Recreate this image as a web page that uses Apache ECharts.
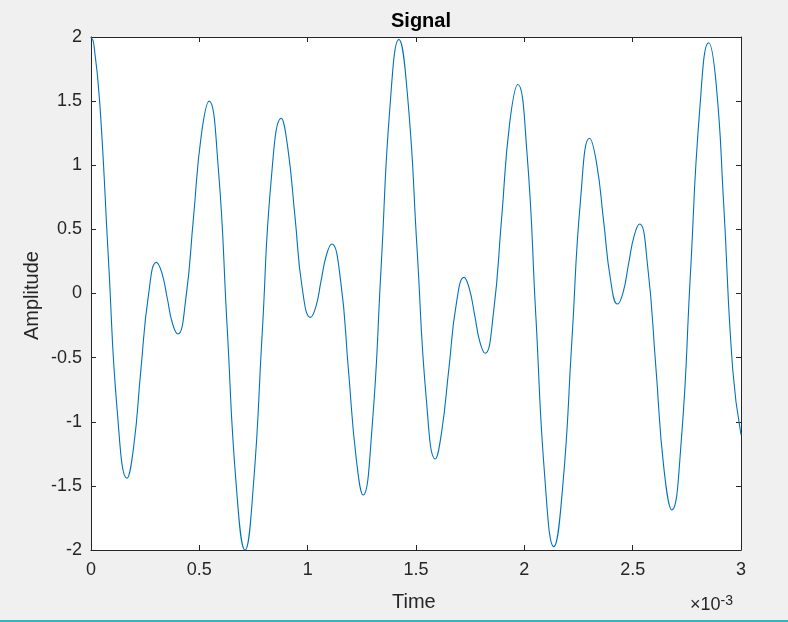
<!DOCTYPE html>
<html>
<head>
<meta charset="utf-8">
<script src="https://cdn.jsdelivr.net/npm/echarts@6/dist/echarts.min.js"></script>
<style>
html,body{margin:0;padding:0;background:#f0f0f0;}
#c{width:788px;height:622px;}
</style>
</head>
<body>
<div id="c"></div>
<script>
// Time in units of 1e-3 s (axis shows ×10^-3)
var timeMs = [
  0.000, 0.012, 0.040, 0.080, 0.122, 0.166, 0.197, 0.230, 0.266, 0.302,
  0.327, 0.352, 0.376, 0.401, 0.437, 0.473, 0.509, 0.545, 0.587, 0.628,
  0.670, 0.711, 0.749, 0.790, 0.831, 0.878, 0.908, 0.942, 0.975, 1.013,
  1.038, 1.062, 1.087, 1.111, 1.152, 1.188, 1.224, 1.256, 1.297, 1.339,
  1.380, 1.421, 1.463, 1.505, 1.547, 1.589, 1.618, 1.652, 1.686, 1.722,
  1.746, 1.771, 1.795, 1.819, 1.857, 1.895, 1.932, 1.970, 2.012, 2.053,
  2.095, 2.136, 2.177, 2.219, 2.260, 2.301, 2.333, 2.366, 2.398, 2.430,
  2.456, 2.481, 2.507, 2.532, 2.569, 2.607, 2.644, 2.681, 2.724, 2.766,
  2.809, 2.851, 2.885, 2.920, 2.962, 3.000
];
var amplitude = [
  2.000, 1.955, 1.496, 0.280, -0.936, -1.440, -1.194, -0.599, -0.003, 0.243,
  0.161, -0.037, -0.234, -0.316, -0.050, 0.592, 1.234, 1.500, 0.988, -0.250,
  -1.488, -2.000, -1.507, -0.317, 0.873, 1.366, 1.139, 0.590, 0.041, -0.186,
  -0.102, 0.100, 0.302, 0.386, 0.100, -0.593, -1.285, -1.571, -1.051, 0.205,
  1.460, 1.980, 1.501, 0.345, -0.811, -1.290, -1.083, -0.582, -0.081, 0.126,
  0.039, -0.170, -0.379, -0.466, -0.159, 0.582, 1.323, 1.630, 1.102, -0.172,
  -1.446, -1.974, -1.508, -0.382, 0.744, 1.210, 1.021, 0.564, 0.107, -0.082,
  0.009, 0.230, 0.451, 0.542, 0.216, -0.573, -1.362, -1.688, -1.155, 0.134,
  1.422, 1.955, 1.640, 0.700, -0.596, -1.100
];
var xTicks = [0, 0.5, 1, 1.5, 2, 2.5, 3];
var yTicks = [-2, -1.5, -1, -0.5, 0, 0.5, 1, 1.5, 2];
var titleText = 'Signal';
var xLabel = 'Time';
var yLabel = 'Amplitude';

var pts = timeMs.map(function(t, i){ return [t, amplitude[i]]; });
var axisColor = '#262626';
var font = '"Liberation Sans", Arial, sans-serif';

var chart = echarts.init(document.getElementById('c'), null, {renderer:'canvas'});
var xBase = {
  type:'value', min:xTicks[0], max:xTicks[xTicks.length-1], interval:0.5,
  axisLine:{show:true, onZero:false, lineStyle:{color:axisColor, width:1}},
  axisTick:{show:true, inside:true, length:5, lineStyle:{color:axisColor}},
  splitLine:{show:false}
};
var yBase = {
  type:'value', min:yTicks[0], max:yTicks[yTicks.length-1], interval:0.5,
  axisLine:{show:true, onZero:false, lineStyle:{color:axisColor, width:1}},
  axisTick:{show:true, inside:true, length:5, lineStyle:{color:axisColor}},
  splitLine:{show:false}
};
chart.setOption({
  backgroundColor:'#f0f0f0',
  animation:false,
  title:{
    text:titleText, left:416, top:6, textAlign:'center',
    textStyle:{fontFamily:font, fontWeight:'bold', fontSize:20, color:'#000'}
  },
  grid:{left:91, top:37, width:650, height:513, show:true, backgroundColor:'#ffffff', borderColor:axisColor, borderWidth:0},
  xAxis:[
    Object.assign({}, xBase, {position:'bottom',
      axisLabel:{show:true, margin:11, color:axisColor, fontFamily:font, fontSize:18,
        formatter:function(v){ return String(v); }}}),
    Object.assign({}, xBase, {position:'top', axisLabel:{show:false}})
  ],
  yAxis:[
    Object.assign({}, yBase, {position:'left',
      axisLabel:{show:true, margin:9, color:axisColor, fontFamily:font, fontSize:18,
        formatter:function(v){ return String(v); }}}),
    Object.assign({}, yBase, {position:'right', axisLabel:{show:false}})
  ],
  graphic:[
    {type:'text', left:392, top:592, style:{text:xLabel, fontFamily:font, fontSize:20, fill:axisColor}},
    {type:'text', x:22, y:340, rotation:Math.PI/2, style:{text:yLabel, fontFamily:font, fontSize:20, fill:axisColor}},
    {type:'text', left:690, top:594, style:{
      text:'{a|×10}{b|-3}',
      rich:{
        a:{fontFamily:font, fontSize:18, fill:axisColor},
        b:{fontFamily:font, fontSize:14, fill:axisColor, verticalAlign:'top', padding:[0,0,9,0]}
      }}},
    {type:'rect', shape:{x:0, y:620, width:788, height:2}, style:{fill:'#2bb6c6'}}
  ],
  series:[{
    type:'line', xAxisIndex:0, yAxisIndex:0, data:pts, smooth:0.5, showSymbol:false,
    lineStyle:{color:'#0072BD', width:1.1}, clip:true
  }]
});
</script>
</body>
</html>
